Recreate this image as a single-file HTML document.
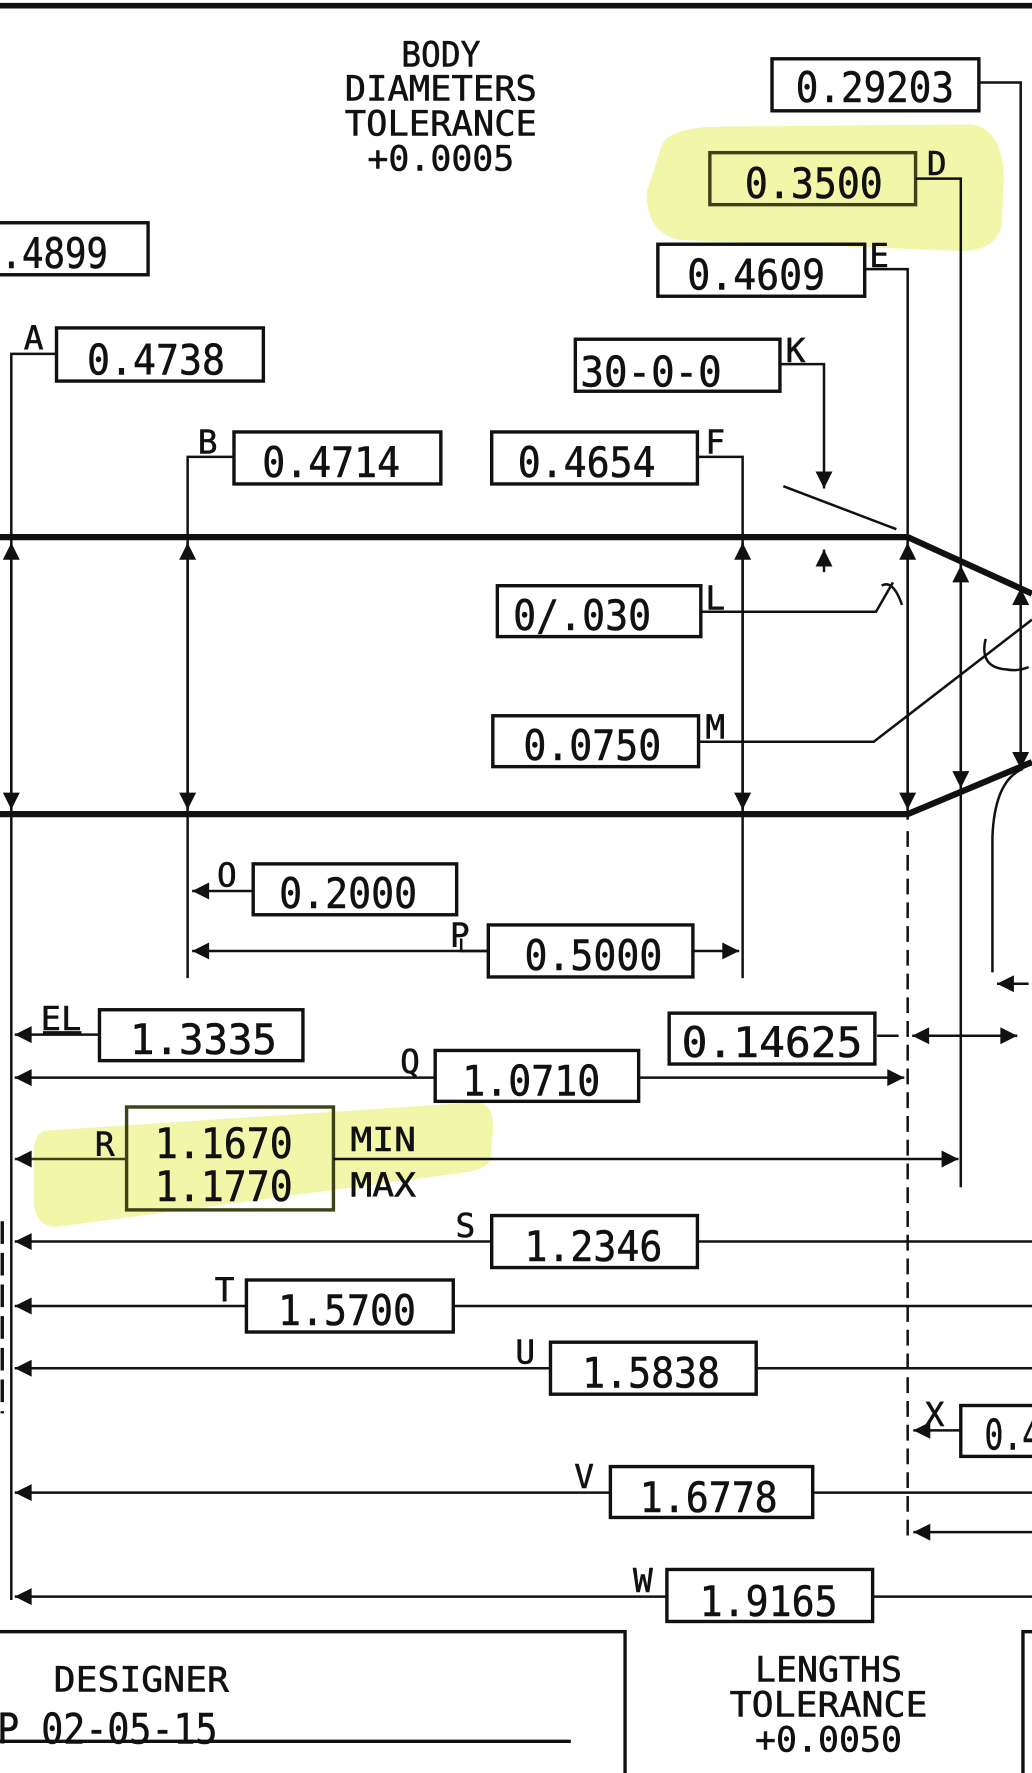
<!DOCTYPE html>
<html><head><meta charset="utf-8"><style>
html,body{margin:0;padding:0;background:#fff;}
svg{display:block;}
text{font-family:"DejaVu Sans Mono","Liberation Mono",monospace;fill:#111;stroke:#111;stroke-width:0.5;}
</style></head><body>
<svg width="1032" height="1773" viewBox="0 0 913 1568" preserveAspectRatio="none" xmlns="http://www.w3.org/2000/svg">
<defs>
<marker id="b" viewBox="0 0 10 10" refX="10" refY="5" markerWidth="18" markerHeight="15" orient="auto-start-reverse" markerUnits="userSpaceOnUse"><path d="M0,0 L10,5 L0,10 z" fill="#111"/></marker>
</defs>
<rect width="913" height="1568" fill="#fff"/>
<path d="M585,130 Q590,112 640,112 L860,110 Q888,115 888,160 L886,200 Q880,222 850,222 L600,212 Q572,205 572,170 Z" fill="#eef59a" opacity="0.85"/>
<path d="M40,1000 L420,975 Q438,975 436,1000 L434,1025 Q430,1035 410,1037 L50,1085 Q30,1085 30,1060 L30,1020 Q30,1002 40,1000 Z" fill="#eef59a" opacity="0.85"/>

<g stroke="#111" fill="none">
<line x1="0" y1="5" x2="913" y2="5" stroke-width="5"/>
<polyline points="0,475 803,475 913,525" stroke-width="5.5"/>
<polyline points="0,720 803,720 913,674" stroke-width="5.5"/>
<g stroke-width="3">
<rect x="683" y="52" width="183" height="46"/>
<rect x="628" y="135" width="182" height="46" stroke="#3d4218"/>
<rect x="-5" y="197" width="136" height="46"/>
<rect x="582" y="216" width="183" height="46"/>
<rect x="50" y="290" width="183" height="47"/>
<rect x="509" y="300" width="181" height="46"/>
<rect x="207" y="382" width="183" height="46"/>
<rect x="435" y="382" width="182" height="46"/>
<rect x="440" y="518" width="180" height="45"/>
<rect x="436" y="633" width="182" height="45"/>
<rect x="224" y="764" width="180" height="45"/>
<rect x="432" y="818" width="181" height="46"/>
<rect x="88" y="893" width="180" height="45"/>
<rect x="592" y="896" width="182" height="45"/>
<rect x="385" y="929" width="180" height="45"/>
<rect x="112" y="979" width="183" height="91" stroke="#3d4218"/>
<rect x="435" y="1075" width="182" height="46"/>
<rect x="218" y="1132" width="183" height="46"/>
<rect x="487" y="1187" width="182" height="46"/>
<rect x="850" y="1243" width="80" height="45"/>
<rect x="540" y="1297" width="179" height="45"/>
<rect x="590" y="1388" width="182" height="46"/>
<rect x="-5" y="1443" width="558" height="140"/>
<rect x="905" y="1443" width="40" height="140"/>
</g>
<g stroke-width="2.2">
<polyline points="866,73 903,73 903,520"/>
<polyline points="810,158 850,158 850,1050"/>
<polyline points="765,238 803,238 803,725"/>
<line x1="803" y1="735" x2="803" y2="1365" stroke-dasharray="14,7"/>
<polyline points="50,313 10,313 10,1415"/>
<polyline points="207,404 166,404 166,865"/>
<polyline points="617,404 657,404 657,865"/>
<polyline points="690,322 729,322 729,432" marker-end="url(#b)"/>
<line x1="693" y1="430" x2="793" y2="468"/>
<polyline points="620,541 775,541 790,515"/>
<path d="M780,518 Q790,512 798,535"/>
<polyline points="618,656 773,656 913,548"/>
<path d="M872,565 Q866,590 890,592 Q900,594 910,590"/>
<path d="M905,680 Q880,690 878,740 L878,860"/>
<line x1="10" y1="480" x2="10" y2="716" marker-start="url(#b)" marker-end="url(#b)"/>
<line x1="166" y1="480" x2="166" y2="716" marker-start="url(#b)" marker-end="url(#b)"/>
<line x1="657" y1="480" x2="657" y2="716" marker-start="url(#b)" marker-end="url(#b)"/>
<line x1="803" y1="480" x2="803" y2="716" marker-start="url(#b)" marker-end="url(#b)"/>
<line x1="850" y1="500" x2="850" y2="697" marker-start="url(#b)" marker-end="url(#b)"/>
<line x1="903" y1="520" x2="903" y2="680" marker-start="url(#b)" marker-end="url(#b)"/>
<line x1="729" y1="506" x2="729" y2="486" marker-end="url(#b)"/>
<line x1="224" y1="788" x2="170" y2="788" marker-end="url(#b)"/>
<line x1="432" y1="841" x2="170" y2="841" marker-end="url(#b)"/>
<polyline points="432,841 408,841 408,830"/>
<line x1="613" y1="841" x2="654" y2="841" marker-end="url(#b)"/>
<line x1="88" y1="915" x2="13" y2="915" marker-end="url(#b)"/>
<line x1="776" y1="916" x2="795" y2="916"/>
<line x1="807" y1="916" x2="900" y2="916" marker-start="url(#b)" marker-end="url(#b)"/>
<line x1="910" y1="870" x2="882" y2="870" marker-end="url(#b)"/>
<line x1="385" y1="953" x2="13" y2="953" marker-end="url(#b)"/>
<line x1="565" y1="953" x2="800" y2="953" marker-end="url(#b)"/>
<line x1="112" y1="1025" x2="13" y2="1025" marker-end="url(#b)" stroke="#3d4218"/>
<line x1="295" y1="1025" x2="848" y2="1025" marker-end="url(#b)"/>
<line x1="435" y1="1098" x2="13" y2="1098" marker-end="url(#b)"/>
<line x1="617" y1="1098" x2="913" y2="1098"/>
<line x1="218" y1="1155" x2="13" y2="1155" marker-end="url(#b)"/>
<line x1="401" y1="1155" x2="913" y2="1155"/>
<line x1="487" y1="1210" x2="13" y2="1210" marker-end="url(#b)"/>
<line x1="669" y1="1210" x2="913" y2="1210"/>
<line x1="850" y1="1265" x2="808" y2="1265" marker-end="url(#b)"/>
<line x1="540" y1="1320" x2="13" y2="1320" marker-end="url(#b)"/>
<line x1="719" y1="1320" x2="913" y2="1320"/>
<line x1="913" y1="1355" x2="808" y2="1355" marker-end="url(#b)"/>
<line x1="590" y1="1412" x2="13" y2="1412" marker-end="url(#b)"/>
<line x1="772" y1="1412" x2="913" y2="1412"/>
<line x1="0" y1="1540" x2="505" y2="1540" stroke-width="3"/>
<line x1="38" y1="913" x2="72" y2="913"/>
<line x1="2" y1="1080" x2="2" y2="1250" stroke-width="3" stroke-dasharray="20,8"/>
</g>
</g>
<g font-size="31" text-anchor="middle">
<text x="390" y="59" textLength="70" lengthAdjust="spacingAndGlyphs">BODY</text>
<text x="390" y="89" textLength="170" lengthAdjust="spacingAndGlyphs">DIAMETERS</text>
<text x="390" y="120" textLength="170" lengthAdjust="spacingAndGlyphs">TOLERANCE</text>
<text x="390" y="151" textLength="130" lengthAdjust="spacingAndGlyphs">+0.0005</text>
<text x="125" y="1496" textLength="155" lengthAdjust="spacingAndGlyphs">DESIGNER</text>
<text x="733" y="1487" textLength="130" lengthAdjust="spacingAndGlyphs">LENGTHS</text>
<text x="733" y="1518" textLength="175" lengthAdjust="spacingAndGlyphs">TOLERANCE</text>
<text x="733" y="1549" textLength="130" lengthAdjust="spacingAndGlyphs">+0.0050</text>
</g>
<g font-size="37" text-anchor="middle">
<text x="774" y="90" textLength="140" lengthAdjust="spacingAndGlyphs">0.29203</text>
<text x="720" y="175" textLength="122" lengthAdjust="spacingAndGlyphs" fill="#454a20" stroke="#454a20">0.3500</text>
<text x="48" y="237" textLength="95" lengthAdjust="spacingAndGlyphs">.4899</text>
<text x="669" y="256" textLength="122" lengthAdjust="spacingAndGlyphs">0.4609</text>
<text x="138" y="331" textLength="122" lengthAdjust="spacingAndGlyphs">0.4738</text>
<text x="576" y="342" textLength="125" lengthAdjust="spacingAndGlyphs">30-0-0</text>
<text x="293" y="422" textLength="122" lengthAdjust="spacingAndGlyphs">0.4714</text>
<text x="519" y="422" textLength="122" lengthAdjust="spacingAndGlyphs">0.4654</text>
<text x="515" y="557" textLength="122" lengthAdjust="spacingAndGlyphs">0/.030</text>
<text x="524" y="672" textLength="122" lengthAdjust="spacingAndGlyphs">0.0750</text>
<text x="308" y="803" textLength="122" lengthAdjust="spacingAndGlyphs">0.2000</text>
<text x="525" y="858" textLength="122" lengthAdjust="spacingAndGlyphs">0.5000</text>
<text x="180" y="932" textLength="130" lengthAdjust="spacingAndGlyphs">1.3335</text>
<text x="683" y="935" textLength="160" lengthAdjust="spacingAndGlyphs">0.14625</text>
<text x="470" y="969" textLength="122" lengthAdjust="spacingAndGlyphs">1.0710</text>
<text x="198" y="1024" textLength="122" lengthAdjust="spacingAndGlyphs" fill="#454a20" stroke="#454a20">1.1670</text>
<text x="198" y="1062" textLength="122" lengthAdjust="spacingAndGlyphs" fill="#454a20" stroke="#454a20">1.1770</text>
<text x="525" y="1115" textLength="122" lengthAdjust="spacingAndGlyphs">1.2346</text>
<text x="307" y="1172" textLength="122" lengthAdjust="spacingAndGlyphs">1.5700</text>
<text x="576" y="1227" textLength="122" lengthAdjust="spacingAndGlyphs">1.5838</text>
<text x="896" y="1282" textLength="50" lengthAdjust="spacingAndGlyphs">0.4</text>
<text x="627" y="1337" textLength="122" lengthAdjust="spacingAndGlyphs">1.6778</text>
<text x="680" y="1429" textLength="122" lengthAdjust="spacingAndGlyphs">1.9165</text>
<text x="95" y="1542" textLength="195" lengthAdjust="spacingAndGlyphs">P 02-05-15</text>
</g>
<g font-size="29">
<text x="820" y="155" fill="#454a20" stroke="#454a20">D</text>
<text x="769" y="236">E</text>
<text x="21" y="309">A</text>
<text x="695" y="320">K</text>
<text x="175" y="401">B</text>
<text x="624" y="401">F</text>
<text x="624" y="539">L</text>
<text x="624" y="653">M</text>
<text x="192" y="784">O</text>
<text x="398" y="837">P</text>
<text x="36" y="911" textLength="36" lengthAdjust="spacingAndGlyphs">EL</text>
<text x="354" y="949">Q</text>
<text x="84" y="1022" fill="#454a20" stroke="#454a20">R</text>
<text x="310" y="1018" fill="#454a20" stroke="#454a20" textLength="58" lengthAdjust="spacingAndGlyphs">MIN</text>
<text x="310" y="1058" fill="#454a20" stroke="#454a20" textLength="58" lengthAdjust="spacingAndGlyphs">MAX</text>
<text x="403" y="1094">S</text>
<text x="190" y="1151">T</text>
<text x="456" y="1206">U</text>
<text x="818" y="1261">X</text>
<text x="508" y="1316">V</text>
<text x="560" y="1408">W</text>
</g>
</svg>
</body></html>
